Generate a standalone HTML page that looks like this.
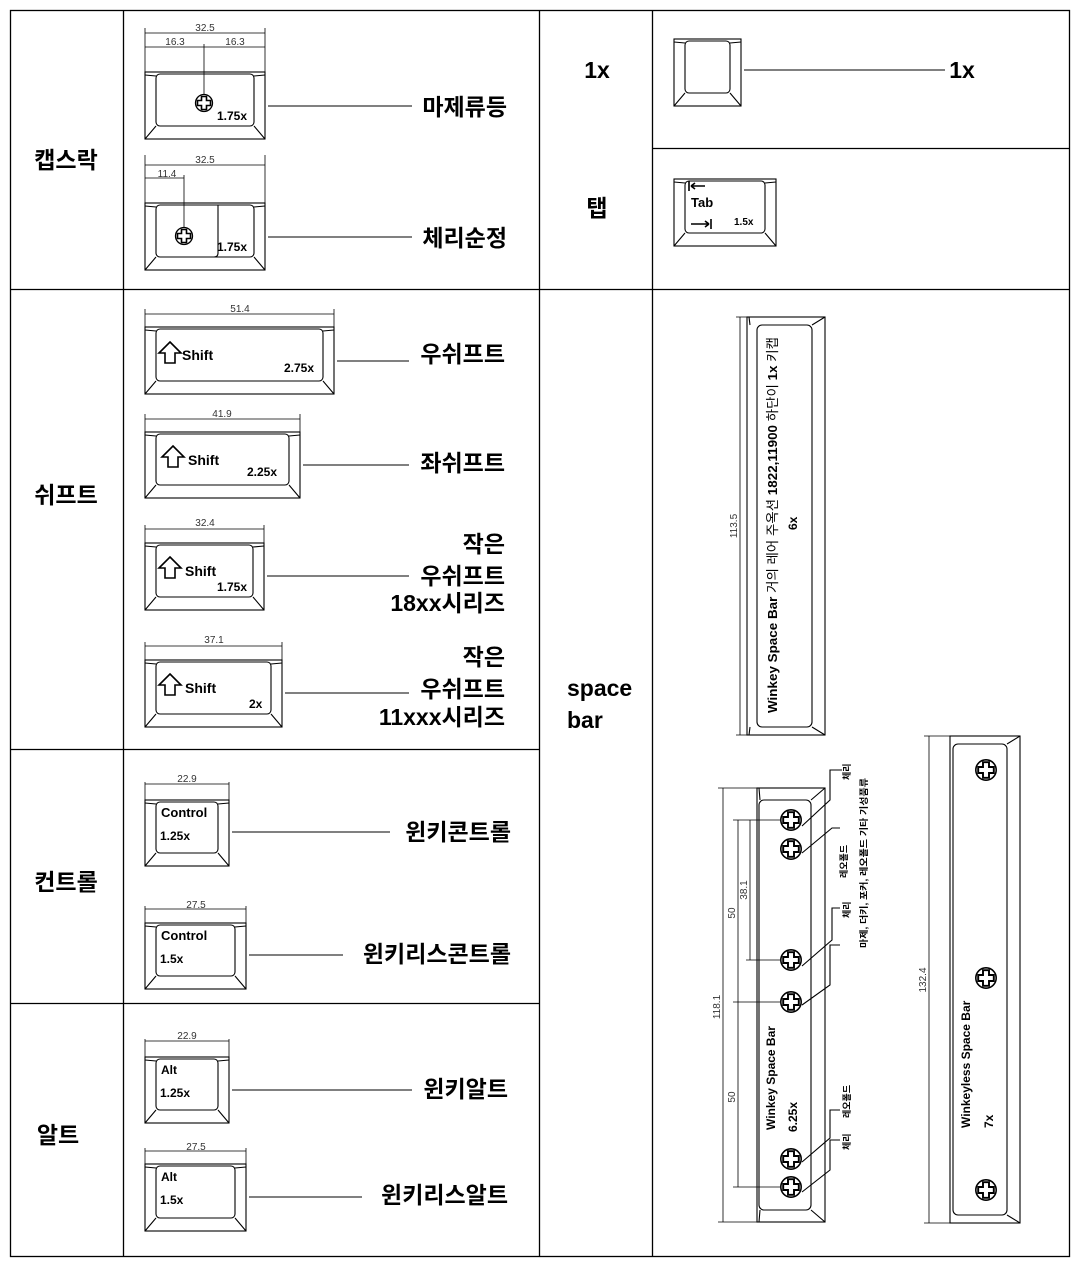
<!DOCTYPE html>
<html><head><meta charset="utf-8"><style>
html,body{margin:0;padding:0;background:#fff}
svg{display:block}
text{font-family:"Liberation Sans","Noto Sans CJK KR",sans-serif;fill:#000}
.k{font-family:"Noto Sans CJK KR","Liberation Sans",sans-serif;font-weight:bold}
.d{font-size:10px;fill:#333}
.b{font-weight:bold}
</style></head><body>
<svg width="1080" height="1266" viewBox="0 0 1080 1266" xmlns="http://www.w3.org/2000/svg">
<defs>
<symbol id="s" viewBox="-10 -10 20 20" overflow="visible">
<circle r="8.5" fill="#fff" stroke="#000" stroke-width="1.3"/>
<path d="M-2.5,-6.5h5v4h4v5h-4v4h-5v-4h-4v-5h4z" fill="#fff" stroke="#000" stroke-width="1.6"/>
</symbol>
</defs>
<g fill="none" stroke="#000" stroke-width="1.3">
<rect x="10.5" y="10.5" width="1059" height="1246"/>
<line x1="123.5" y1="10" x2="123.5" y2="1257"/>
<line x1="539.5" y1="10" x2="539.5" y2="1257"/>
<line x1="652.5" y1="10" x2="652.5" y2="1257"/>
<line x1="10" y1="289.5" x2="1070" y2="289.5"/>
<line x1="652" y1="148.5" x2="1070" y2="148.5"/>
<line x1="10" y1="749.5" x2="539" y2="749.5"/>
<line x1="10" y1="1003.5" x2="539" y2="1003.5"/>
</g>
<g fill="none" stroke="#000" stroke-width="1.1">
<rect x="145" y="72" width="120" height="67"/><rect x="156" y="74" width="98" height="52" rx="4"/>
<path d="M145,139L156,126M265,139L254,126M145,75L156,76M265,75L254,76"/>
<rect x="145" y="203" width="120" height="67"/><rect x="156" y="205" width="98" height="52" rx="4"/>
<path d="M218,205V253Q218,257 214,257M145,270L156,257M265,270L254,257M145,206L156,207M265,206L254,207"/>
<rect x="145" y="327" width="189" height="67"/><rect x="156" y="329" width="167" height="52" rx="4"/>
<path d="M145,394L156,381M334,394L323,381M145,330L156,331M334,330L323,331"/>
<rect x="145" y="432" width="155" height="66"/><rect x="156" y="434" width="133" height="51" rx="4"/>
<path d="M145,498L156,485M300,498L289,485M145,435L156,436M300,435L289,436"/>
<rect x="145" y="543" width="119" height="67"/><rect x="156" y="545" width="97" height="52" rx="4"/>
<path d="M145,610L156,597M264,610L253,597M145,546L156,547M264,546L253,547"/>
<rect x="145" y="660" width="137" height="67"/><rect x="156" y="662" width="115" height="52" rx="4"/>
<path d="M145,727L156,714M282,727L271,714M145,663L156,664M282,663L271,664"/>
<rect x="145" y="800" width="84" height="66"/><rect x="156" y="802" width="62" height="51" rx="4"/>
<path d="M145,866L156,853M229,866L218,853M145,803L156,804M229,803L218,804"/>
<rect x="145" y="923" width="101" height="66"/><rect x="156" y="925" width="79" height="51" rx="4"/>
<path d="M145,989L156,976M246,989L235,976M145,926L156,927M246,926L235,927"/>
<rect x="145" y="1057" width="84" height="66"/><rect x="156" y="1059" width="62" height="51" rx="4"/>
<path d="M145,1123L156,1110M229,1123L218,1110M145,1060L156,1061M229,1060L218,1061"/>
<rect x="145" y="1164" width="101" height="67"/><rect x="156" y="1166" width="79" height="52" rx="4"/>
<path d="M145,1231L156,1218M246,1231L235,1218M145,1167L156,1168M246,1167L235,1168"/>
<rect x="674" y="39" width="67" height="67"/><rect x="685" y="41" width="45" height="52" rx="4"/>
<path d="M674,106L685,93M741,106L730,93M674,42L685,43M741,42L730,43"/>
<rect x="674" y="179" width="102" height="67"/><rect x="685" y="181" width="80" height="52" rx="4"/>
<path d="M674,246L685,233M776,246L765,233M674,182L685,183M776,182L765,183"/>
<rect x="747" y="317" width="78" height="418"/><rect x="757" y="325" width="55" height="402" rx="5"/>
<path d="M825,317L812,325M825,735L812,727M749,317L750,325M749,735L750,727"/>
<rect x="757" y="788" width="68" height="434"/><rect x="759" y="800" width="52" height="410" rx="5"/>
<path d="M825,788L811,800M825,1222L811,1210M759,788L760,800M759,1222L760,1210"/>
<rect x="950" y="736" width="70" height="487"/><rect x="953" y="744" width="54" height="471" rx="5"/>
<path d="M1020,736L1007,744M1020,1223L1007,1215"/>
</g>
<g fill="none" stroke="#000" stroke-width="0.8">
<path d="M145,28V72M265,28V72M145,33H265M145,47H265M204,44V96"/>
<path d="M145,155V203M265,155V203M145,165H265M145,178H184M184,175V228"/>
<path d="M145,309V327M334,309V327M145,314H334"/>
<path d="M145,414V432M300,414V432M145,419H300"/>
<path d="M145,525V543M264,525V543M145,529H264"/>
<path d="M145,642V660M282,642V660M145,646H282"/>
<path d="M145,782V800M229,782V800M145,784H229"/>
<path d="M145,906V923M246,906V923M145,909H246"/>
<path d="M145,1039V1057M229,1039V1057M145,1041H229"/>
<path d="M145,1148V1164M246,1148V1164M145,1151H246"/>
<path d="M736,317H747M736,735H747M740,317V735"/>
<path d="M718,788H757M718,1222H757M723,788V1222"/>
<path d="M733,820H780M733,1002H780M733,1187H780M738,820V1187M746,960H780M750,820V960"/>
<path d="M924,736H950M924,1223H950M929,736V1223"/>
</g>
<g fill="none" stroke="#000" stroke-width="1.1">
<path d="M268,106H412M268,237H412M337,361H409M303,465H409M267,576H409M285,693H409M232,832H390M249,955H343M232,1090H412M249,1197H362M744,70H945"/>
<path d="M802,826L830,800V770H842M802,853L832,828H840M802,966L832,940V908H840M802,1005L830,985V945H840M802,1162L830,1138V1110H840M802,1192L830,1170V1140H840"/>
</g>
<use href="#s" x="194" y="93" width="20" height="20"/>
<use href="#s" x="174" y="226" width="20" height="20"/>
<g>
<use href="#s" x="779" y="808" width="24" height="24"/>
<use href="#s" x="779" y="837" width="24" height="24"/>
<use href="#s" x="779" y="948" width="24" height="24"/>
<use href="#s" x="779" y="990" width="24" height="24"/>
<use href="#s" x="779" y="1147" width="24" height="24"/>
<use href="#s" x="779" y="1175" width="24" height="24"/>
<use href="#s" x="974" y="758" width="24" height="24"/>
<use href="#s" x="974" y="966" width="24" height="24"/>
<use href="#s" x="974" y="1178" width="24" height="24"/>
</g>
<g fill="#fff" stroke="#000" stroke-width="1.6">
<path d="M170,342L181,353H175V363H165V353H159Z"/>
<path d="M173,446L184,457H178V467H168V457H162Z"/>
<path d="M170,557L181,568H175V578H165V568H159Z"/>
<path d="M170,674L181,685H175V695H165V685H159Z"/>
<path d="M689,181V191M691,186H705M691,186L695,183M691,186L695,189M711,219V229M691,224H709M709,224L705,221M709,224L705,227"/>
</g>
<text class="d" x="205" y="31" text-anchor="middle">32.5</text>
<text class="d" x="175" y="45" text-anchor="middle">16.3</text>
<text class="d" x="235" y="45" text-anchor="middle">16.3</text>
<text class="d" x="205" y="163" text-anchor="middle">32.5</text>
<text class="d" x="167" y="177" text-anchor="middle">11.4</text>
<text class="d" x="240" y="312" text-anchor="middle">51.4</text>
<text class="d" x="222" y="417" text-anchor="middle">41.9</text>
<text class="d" x="205" y="526" text-anchor="middle">32.4</text>
<text class="d" x="214" y="643" text-anchor="middle">37.1</text>
<text class="d" x="187" y="782" text-anchor="middle">22.9</text>
<text class="d" x="196" y="908" text-anchor="middle">27.5</text>
<text class="d" x="187" y="1039" text-anchor="middle">22.9</text>
<text class="d" x="196" y="1150" text-anchor="middle">27.5</text>
<text class="d" transform="translate(737,526) rotate(-90)" text-anchor="middle">113.5</text>
<text class="d" transform="translate(720,1007) rotate(-90)" text-anchor="middle">118.1</text>
<text class="d" transform="translate(735,913) rotate(-90)" text-anchor="middle">50</text>
<text class="d" transform="translate(735,1097) rotate(-90)" text-anchor="middle">50</text>
<text class="d" transform="translate(747,890) rotate(-90)" text-anchor="middle">38.1</text>
<text class="d" transform="translate(926,980) rotate(-90)" text-anchor="middle">132.4</text>
<g class="b" font-size="12">
<text x="217" y="120">1.75x</text>
<text x="217" y="251">1.75x</text>
<text x="182" y="360" font-size="14">Shift</text>
<text x="284" y="372">2.75x</text>
<text x="188" y="465" font-size="14">Shift</text>
<text x="247" y="476">2.25x</text>
<text x="185" y="576" font-size="14">Shift</text>
<text x="217" y="591">1.75x</text>
<text x="185" y="693" font-size="14">Shift</text>
<text x="249" y="708">2x</text>
<text x="161" y="817" font-size="13">Control</text>
<text x="160" y="840">1.25x</text>
<text x="161" y="940" font-size="13">Control</text>
<text x="160" y="963">1.5x</text>
<text x="161" y="1074">Alt</text>
<text x="160" y="1097">1.25x</text>
<text x="161" y="1181">Alt</text>
<text x="160" y="1204">1.5x</text>
<text x="691" y="207" font-size="13">Tab</text>
<text x="734" y="225" font-size="10">1.5x</text>
</g>
<text transform="translate(777,713) rotate(-90)" font-size="13" textLength="376" lengthAdjust="spacingAndGlyphs"><tspan font-weight="bold">Winkey Space Bar</tspan> 거의 레어 주옥션 <tspan font-weight="bold">1822,11900</tspan> 하단이 <tspan font-weight="bold">1x</tspan> 키캡</text>
<text class="b" transform="translate(797,530) rotate(-90)" font-size="12">6x</text>
<text class="b" transform="translate(775,1130) rotate(-90)" font-size="12">Winkey Space Bar</text>
<text class="b" transform="translate(797,1132) rotate(-90)" font-size="12">6.25x</text>
<text class="b" transform="translate(970,1128) rotate(-90)" font-size="12">Winkeyless Space Bar</text>
<text class="b" transform="translate(993,1128) rotate(-90)" font-size="12">7x</text>
<g font-size="9" class="k">
<text transform="translate(850,780) rotate(-90)">체리</text>
<text transform="translate(847,878) rotate(-90)">레오폴드</text>
<text transform="translate(850,918) rotate(-90)">체리</text>
<text transform="translate(867,948) rotate(-90)" textLength="170" lengthAdjust="spacingAndGlyphs">마제, 더키, 포커, 레오폴드 기타 기성품류</text>
<text transform="translate(850,1118) rotate(-90)">레오폴드</text>
<text transform="translate(850,1150) rotate(-90)">체리</text>
</g>
<g class="k" font-size="23">
<text x="66" y="168" text-anchor="middle">캡스락</text>
<text x="66" y="503" text-anchor="middle">쉬프트</text>
<text x="66" y="890" text-anchor="middle">컨트롤</text>
<text x="58" y="1143" text-anchor="middle">알트</text>
<text x="507" y="115" text-anchor="end">마제류등</text>
<text x="507" y="246" text-anchor="end">체리순정</text>
<text x="505" y="362" text-anchor="end">우쉬프트</text>
<text x="505" y="471" text-anchor="end">좌쉬프트</text>
<text x="505" y="552" text-anchor="end">작은</text>
<text x="505" y="584" text-anchor="end">우쉬프트</text>
<text x="505" y="611" text-anchor="end">18xx시리즈</text>
<text x="505" y="665" text-anchor="end">작은</text>
<text x="505" y="697" text-anchor="end">우쉬프트</text>
<text x="505" y="725" text-anchor="end">11xxx시리즈</text>
<text x="511" y="840" text-anchor="end">윈키콘트롤</text>
<text x="511" y="962" text-anchor="end">윈키리스콘트롤</text>
<text x="508" y="1097" text-anchor="end">윈키알트</text>
<text x="508" y="1203" text-anchor="end">윈키리스알트</text>
<text x="597" y="78" text-anchor="middle">1x</text>
<text x="597" y="216" text-anchor="middle">탭</text>
<text x="962" y="78" text-anchor="middle">1x</text>
<text x="567" y="696">space</text>
<text x="567" y="728">bar</text>
</g>
</svg>
</body></html>
